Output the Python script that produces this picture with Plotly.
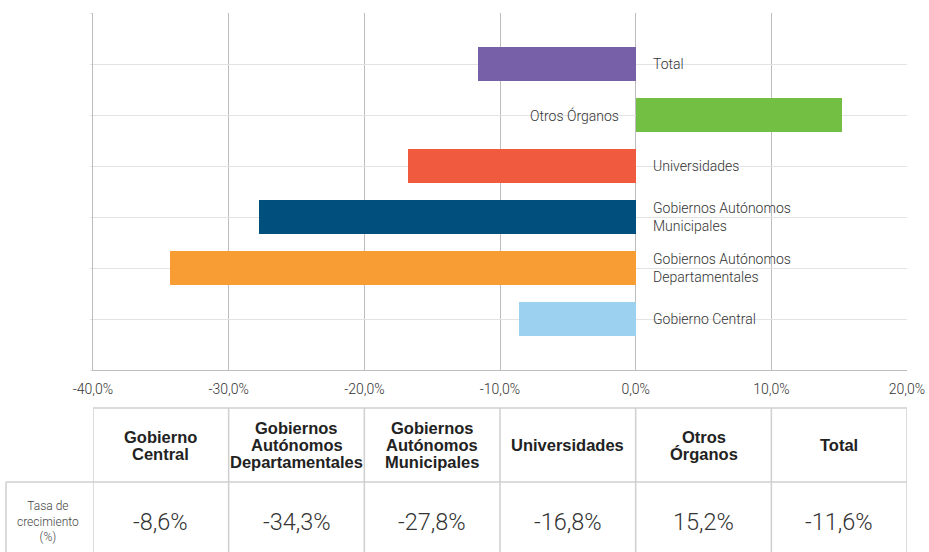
import plotly.graph_objects as go

# Data
categories = ["Gobierno Central", "Gobiernos Autónomos Departamentales",
              "Gobiernos Autónomos Municipales", "Universidades",
              "Otros Órganos", "Total"]
bar_labels = ["Gobierno Central", "Gobiernos Autónomos<br>Departamentales",
              "Gobiernos Autónomos<br>Municipales", "Universidades",
              "Otros Órganos", "Total"]
values = [-8.6, -34.3, -27.8, -16.8, 15.2, -11.6]
colors = ["#9dd1f0", "#f89d33", "#004f7c", "#f05a3e", "#72bf44", "#7860a8"]

table_headers = [["Gobierno", "Central"],
                 ["Gobiernos", "Autónomos", "Departamentales"],
                 ["Gobiernos", "Autónomos", "Municipales"],
                 ["Universidades"],
                 ["Otros", "Órganos"],
                 ["Total"]]
table_values = ["-8,6%", "-34,3%", "-27,8%", "-16,8%", "15,2%", "-11,6%"]
row_label = "Tasa de<br>crecimiento<br>(%)"

x_ticks = [-40, -30, -20, -10, 0, 10, 20]
x_ticktext = ["-40,0%", "-30,0%", "-20,0%", "-10,0%", "0,0%", "10,0%", "20,0%"]

XMIN, XMAX = -40, 20
W, H = 929, 552
ML, MR, MT, MB = 93, 22, 13, 182
PH = H - MT - MB
PW = W - ML - MR

def py(pix):  # pixel y -> paper y
    return (H - MB - pix) / PH

def px(pix):
    return (pix - ML) / PW

ypos = list(range(len(categories)))

fig = go.Figure()
fig.add_trace(go.Bar(
    x=values, y=ypos, orientation="h",
    marker=dict(color=colors, line=dict(width=0)),
    width=0.65, hoverinfo="skip", showlegend=False,
))

annotations = []
label_font = dict(family="Roboto", size=14, color="#333333", weight=300)
for yv, v, lab in zip(ypos, values, bar_labels):
    if v < 0:
        annotations.append(dict(x=0, y=yv, xref="x", yref="y", text=lab, showarrow=False,
                                xanchor="left", yanchor="middle", xshift=15, align="left",
                                font=label_font))
    else:
        annotations.append(dict(x=0, y=yv, xref="x", yref="y", text=lab, showarrow=False,
                                xanchor="right", yanchor="middle", xshift=-15, align="right",
                                font=label_font))

shapes = []
border = dict(color="#cfcfcf", width=1.5)
# table horizontal lines
shapes.append(dict(type="line", xref="x", yref="paper", x0=XMIN, x1=XMAX,
                   y0=py(408), y1=py(408), line=border))
shapes.append(dict(type="line", xref="paper", yref="paper", x0=px(6), x1=1,
                   y0=py(482), y1=py(482), line=border))
# vertical lines
for t in x_ticks:
    shapes.append(dict(type="line", xref="x", yref="paper", x0=t, x1=t,
                       y0=py(408), y1=py(556), line=border))
shapes.append(dict(type="line", xref="paper", yref="paper", x0=px(6), x1=px(6),
                   y0=py(482), y1=py(556), line=border))

# headers
head_font = dict(family="Liberation Sans", size=16.5, color="#222222", weight="bold")
centers = [(x_ticks[i] + x_ticks[i + 1]) / 2 for i in range(len(x_ticks) - 1)]
for c, lines in zip(centers, table_headers):
    n = len(lines)
    for k, ln in enumerate(lines):
        off = (k - (n - 1) / 2) * 17
        annotations.append(dict(x=c, y=py(445 + off), xref="x", yref="paper", text=ln,
                                showarrow=False, xanchor="center", yanchor="middle",
                                font=head_font))
for c, val in zip(centers, table_values):
    annotations.append(dict(x=c, y=py(522), xref="x", yref="paper", text=val,
                            showarrow=False, xanchor="center", yanchor="middle",
                            font=dict(family="Roboto", size=23.5, color="#333333", weight=300)))
annotations.append(dict(x=px(48), y=py(521), xref="paper", yref="paper", text=row_label,
                        showarrow=False, xanchor="center", yanchor="middle", align="center",
                        font=dict(family="Roboto", size=12, color="#444444", weight=300)))

fig.update_layout(
    width=W, height=H,
    margin=dict(l=ML, r=MR, t=MT, b=MB),
    paper_bgcolor="white", plot_bgcolor="white",
    xaxis=dict(range=[XMIN, XMAX], tickvals=x_ticks, ticktext=x_ticktext,
               showgrid=True, gridcolor="#bdbdbd", gridwidth=1, zeroline=False,
               showline=True, linecolor="#bdbdbd", linewidth=1,
               ticks="outside", ticklen=6, tickcolor="rgba(0,0,0,0)",
               automargin=False,
               tickfont=dict(family="Roboto", size=14, color="#333333", weight=300)),
    yaxis=dict(range=[-1, 6], tickvals=list(range(-1, 7)), showticklabels=False,
               showgrid=True, gridcolor="#e3e3e3", gridwidth=1, zeroline=False,
               showline=True, linecolor="#bdbdbd", linewidth=1, mirror=False,
               ticks="outside", ticklen=2, tickcolor="#e3e3e3", automargin=False),
    annotations=annotations, shapes=shapes, bargap=0,
)

fig.write_html("out.html", config={"displayModeBar": False},
               post_script="document.body.style.margin='0';document.body.style.overflow='hidden';")
